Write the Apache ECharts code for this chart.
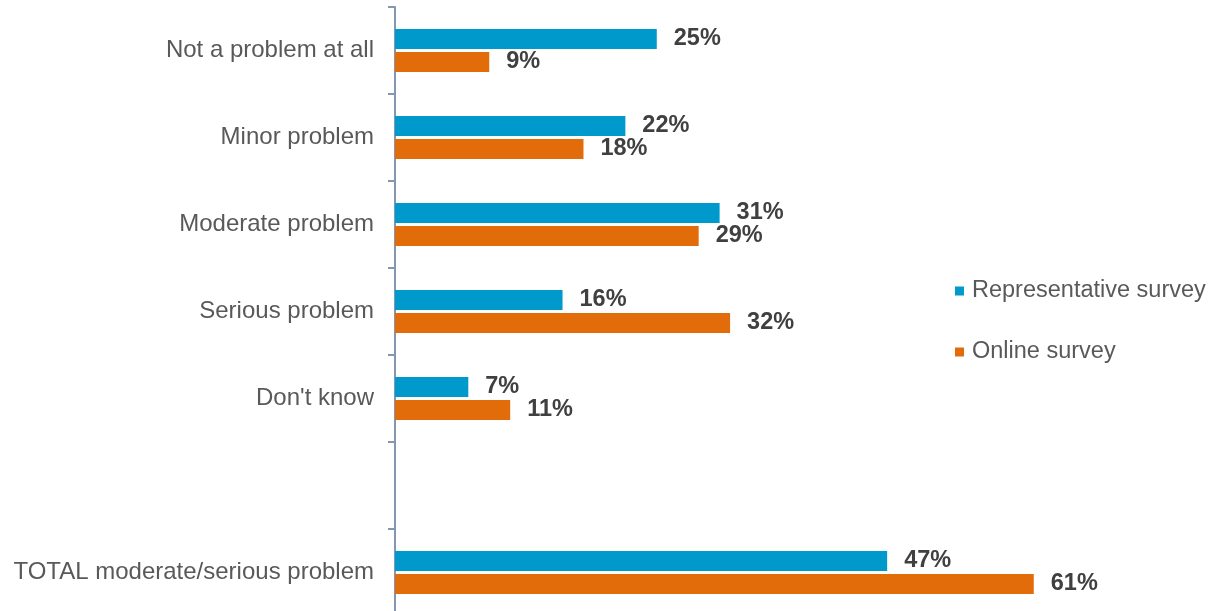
<!DOCTYPE html>
<html>
<head>
<meta charset="utf-8">
<script src="https://cdn.jsdelivr.net/npm/echarts@6/dist/echarts.min.js"></script>
<style>
  html, body { margin: 0; padding: 0; background: #ffffff; }
  #chart { width: 1220px; height: 611px; }
</style>
</head>
<body>
<div id="chart"></div>
<script>
// Answer categories (blank row separates the total from the breakdown)
const categories = [
  'Not a problem at all',
  'Minor problem',
  'Moderate problem',
  'Serious problem',
  "Don't know",
  '',
  'TOTAL moderate/serious problem'
];

const seriesNames = ['Representative survey', 'Online survey'];

// Share of respondents, percent
const representative = [25, 22, 31, 16, 7, null, 47];
const online = [9, 18, 29, 32, 11, null, 61];

const colors = ['#0099CC', '#E36C0A'];

const font = '"Liberation Sans", Arial, sans-serif';

const valueLabel = {
  show: true,
  position: 'right',
  distance: 17,
  formatter: p => p.value == null ? '' : p.value + '%',
  fontFamily: font,
  fontSize: 23.5,
  fontWeight: 'bold',
  color: '#404040'
};

const chart = echarts.init(document.getElementById('chart'), null, { renderer: 'canvas' });

chart.setOption({
  animation: false,
  backgroundColor: '#ffffff',
  color: colors,
  // the plot area runs slightly past the bottom edge of the canvas
  grid: { left: 395, top: 7, width: 733, height: 609, containLabel: false, outerBoundsMode: 'none' },
  legend: {
    orient: 'vertical',
    left: 955,
    top: 279,
    padding: 0,
    itemWidth: 9,
    itemHeight: 9,
    itemGap: 37,
    icon: 'rect',
    data: seriesNames,
    textStyle: {
      fontFamily: font,
      fontSize: 23.5,
      color: '#595959',
      lineHeight: 24,
      padding: [0, 0, 0, 3]
    }
  },
  xAxis: {
    type: 'value',
    min: 0,
    max: 70,
    show: false,
    splitLine: { show: false }
  },
  yAxis: {
    type: 'category',
    inverse: true,
    data: categories,
    axisLine: { show: true, lineStyle: { color: '#8497B0', width: 2 } },
    axisTick: { show: true, length: 7, lineStyle: { color: '#8497B0', width: 2 } },
    axisLabel: {
      margin: 21,
      fontFamily: font,
      fontSize: 24,
      color: '#595959'
    }
  },
  series: [
    {
      name: seriesNames[0],
      type: 'bar',
      data: representative,
      barWidth: 20,
      barGap: '15%',
      itemStyle: { color: colors[0] },
      label: valueLabel
    },
    {
      name: seriesNames[1],
      type: 'bar',
      data: online,
      barWidth: 20,
      barGap: '15%',
      itemStyle: { color: colors[1] },
      label: valueLabel
    }
  ]
});
</script>
</body>
</html>
